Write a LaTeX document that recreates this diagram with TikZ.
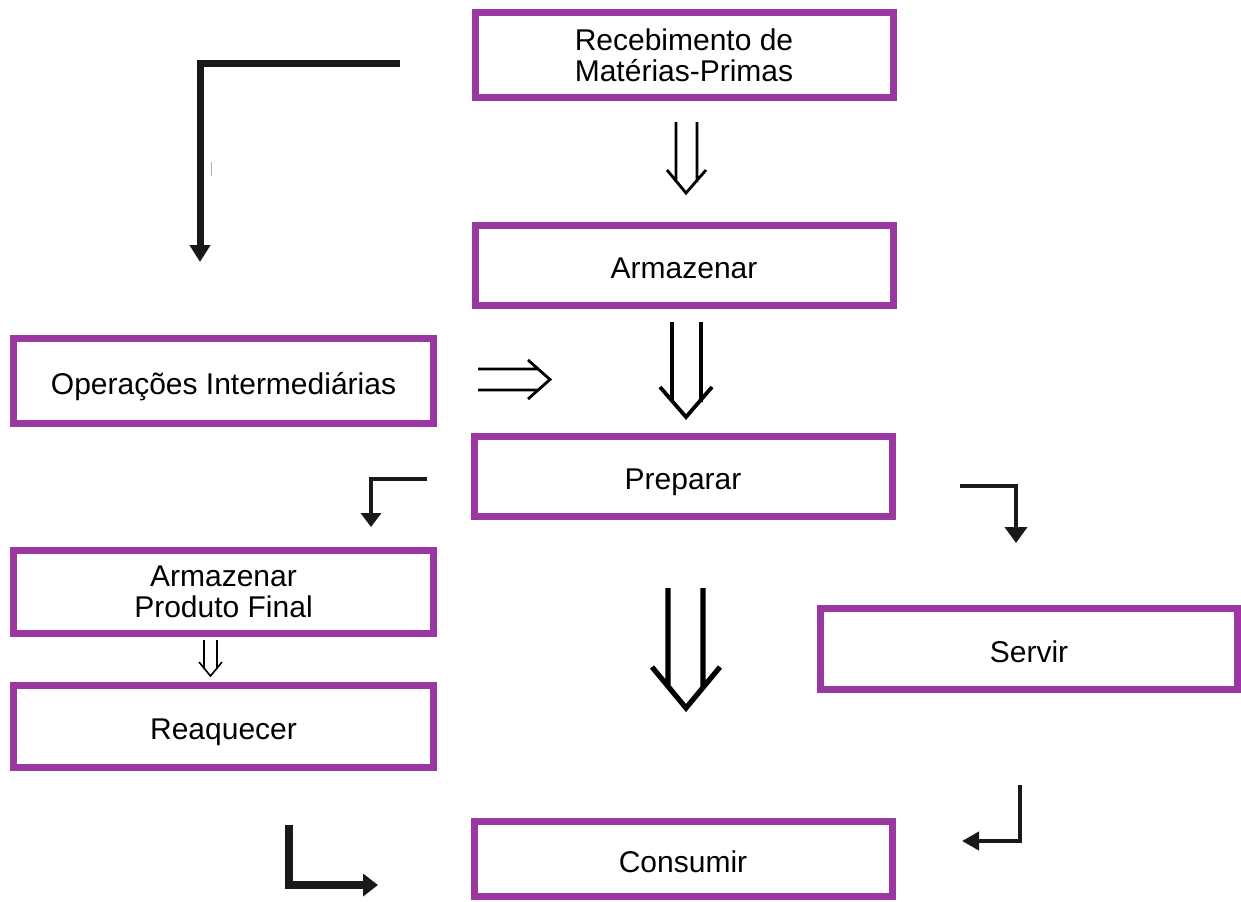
\documentclass[tikz,border=0pt]{standalone}
\usepackage{fontspec}
\setmainfont{Liberation Sans}
\usetikzlibrary{arrows.meta}
\definecolor{caixa}{RGB}{155,55,160}

\begin{document}
\begin{tikzpicture}[line cap=butt,line join=miter,x=0.5pt,y=-0.5pt,
		etapa/.style={draw=caixa,line width=3.5pt,minimum width=209pt,inner sep=0pt,align=center,
			font=\fontsize{15}{15.5}\selectfont},
		umalinha/.style={text height=13pt,text depth=0pt},
		cotovelo/.style={line width=#1,color=black!90}]
	\useasboundingbox (0,0) rectangle (1241,901);
	% caixas
	\node[etapa,minimum height=42.5pt] (receb) at (684,55) {Recebimento de\\Matérias-Primas};
	\node[etapa,umalinha,minimum height=40pt] (armaz) at (684,265) {Armazenar};
	\node[etapa,umalinha,minimum height=42.5pt,minimum width=210pt] (operac) at (223.5,381) {Operações Intermediárias};
	\node[etapa,umalinha,minimum height=40pt] (prep) at (683,476.5) {Preparar};
	\node[etapa,minimum height=41.5pt,minimum width=210pt] (armpf) at (223.5,592) {Armazenar\\Produto Final};
	\node[etapa,umalinha,minimum height=41pt,minimum width=210pt] (reaq) at (223.5,726.5) {Reaquecer};
	\node[etapa,umalinha,minimum height=40.5pt,minimum width=208.5pt] (servir) at (1029,649) {Servir};
	\node[etapa,umalinha,minimum height=37.5pt] (consumir) at (683,859) {Consumir};
	% pontas das setas em cotovelo
	\coordinate (c1a) at (400,63);   \coordinate (c1b) at (200,262);
	\coordinate (c2a) at (427,479);  \coordinate (c2b) at (371,527);
	\coordinate (c3a) at (960,486);  \coordinate (c3b) at (1016,543);
	\coordinate (c4a) at (289,825);  \coordinate (c4b) at (378,885);
	\coordinate (c5a) at (1020,785); \coordinate (c5b) at (962,841);
	\draw[cotovelo=3.5pt,-{Triangle[width=10pt,length=8.5pt]}] (c1a) -| (c1b);
	\draw[cotovelo=2pt,-{Triangle[width=10pt,length=7pt]}] (c2a) -| (c2b);
	\draw[cotovelo=2pt,-{Triangle[width=11pt,length=8pt]}] (c3a) -| (c3b);
	\draw[cotovelo=3.8pt,-{Triangle[width=11pt,length=7.5pt]}] (c4a) |- (c4b);
	\draw[cotovelo=2pt,-{Triangle[width=9pt,length=8.5pt]}] (c5a) |- (c5b);
	\draw[gray!60,line width=0.5pt] (211,162)--(211,176);
	% setas duplas
	\draw[line width=1.4pt] (676,122)--(676,182) (697,122)--(697,182)
		(667,170)--(686,193)--(706,170);
	\draw[line width=1.9pt] (672,322)--(672,402) (701,322)--(701,402)
		(660,387)--(686,417)--(712,387);
	\draw[line width=1.4pt] (478,369)--(539,369) (478,390)--(539,390)
		(528,360)--(550,379.5)--(528,399);
	\draw[line width=0.8pt] (204,640)--(204,669) (217,640)--(217,669)
		(199,662)--(210.5,676)--(222,662);
	\draw[line width=2.6pt] (668,588)--(668,687) (703,588)--(703,687)
		(652,667)--(686,708)--(720,667);
\end{tikzpicture}
\end{document}
